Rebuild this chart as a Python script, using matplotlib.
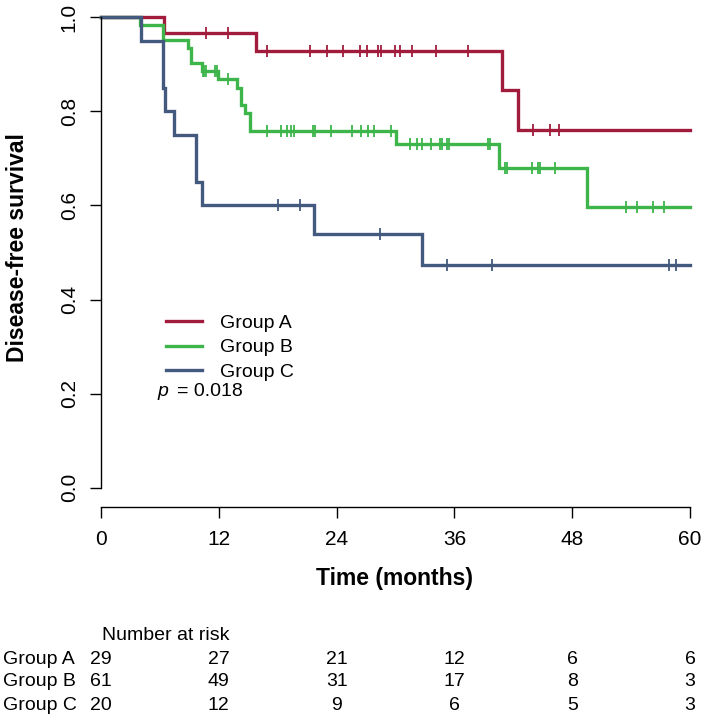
import numpy as np
import matplotlib
matplotlib.use("Agg")
import matplotlib.pyplot as plt
from matplotlib.transforms import blended_transform_factory

plt.rcParams['font.family'] = ['Liberation Sans', 'DejaVu Sans']

# step curves: (time in months, survival after the step)
a_times = [0, 6.4, 15.8, 40.8, 42.5]
a_surv = [1.0, 0.966, 0.929, 0.845, 0.760]
a_cens = [10.7, 12.9, 16.9, 21.3, 23.0, 24.7, 26.4, 27.1, 28.2, 28.5, 29.9,
          30.5, 31.7, 34.1, 37.4, 44.0, 45.7, 46.7]

b_times = [0, 4.0, 6.3, 8.9, 9.2, 10.25, 11.95, 13.9, 14.25, 14.7, 15.2,
           30.1, 40.5, 49.5]
b_surv = [1.0, 0.984, 0.951, 0.934, 0.902, 0.885, 0.868, 0.849, 0.814,
          0.796, 0.759, 0.730, 0.680, 0.596]
b_cens = [10.35, 10.5, 10.7, 11.6, 11.85, 12.9, 16.9, 18.3, 18.9, 19.4, 19.65,
          21.6, 21.8, 23.4, 25.6, 26.5, 27.2, 27.8, 29.5, 31.5, 32.2, 32.7,
          33.6, 34.5, 34.7, 35.2, 35.5, 39.4, 39.6, 41.2, 41.4, 43.9, 44.5,
          44.7, 46.2, 53.5, 54.6, 56.2, 57.4]

c_times = [0, 4.1, 6.3, 6.5, 7.4, 9.7, 10.3, 21.7, 32.7]
c_surv = [1.0, 0.95, 0.85, 0.80, 0.75, 0.65, 0.60, 0.54, 0.4725]
c_cens = [18.0, 20.3, 28.4, 35.2, 39.8, 57.9, 58.6]

groups = ['Group A', 'Group B', 'Group C']
colors = ['#A11B3D', '#3DB54B', '#435A7E']

risk_times = [0, 12, 24, 36, 48, 60]
risk_a = [29, 27, 21, 12, 6, 6]
risk_b = [61, 49, 31, 17, 8, 3]
risk_c = [20, 12, 9, 6, 5, 3]

t_max = 60
p_text = '= 0.018'


def surv_at(times, surv, t):
    i = np.searchsorted(times, t, side='right') - 1
    return np.array(surv)[i]


W, H = 705, 718
fig = plt.figure(figsize=(W / 100, H / 100), dpi=100)
ax = fig.add_axes([101 / W, 1 - 487.7 / H, 589 / W, 470.4 / H])

curves = [(a_times, a_surv, a_cens), (b_times, b_surv, b_cens),
          (c_times, c_surv, c_cens)]
handles = []
for (tt, ss, cc), col, name in zip(curves, colors, groups):
    x = list(tt) + [t_max]
    y = list(ss) + [ss[-1]]
    ln, = ax.step(x, y, where='post', color=col, lw=2.4, clip_on=False,
                  solid_joinstyle='miter', label=name)
    handles.append(ln)
    ax.plot(cc, surv_at(tt, ss, cc), ls='none', marker='|', ms=9, mew=1.3,
            color=col, clip_on=False)

ax.set_xlim(0, t_max)
ax.set_ylim(0, 1)
ax.set_xticks(risk_times)
ax.set_yticks([0, 0.2, 0.4, 0.6, 0.8, 1.0])
ax.set_yticklabels(['0.0', '0.2', '0.4', '0.6', '0.8', '1.0'], rotation=90,
                   va='center')
for s in ['top', 'right']:
    ax.spines[s].set_visible(False)
ax.spines['bottom'].set_position(('outward', 13.7))
ax.spines['bottom'].set_bounds(0, t_max)
ax.spines['left'].set_bounds(0, 1)
for s in ['bottom', 'left']:
    ax.spines[s].set_linewidth(1.0)
ax.tick_params(direction='out', length=8, width=1.0, labelsize=15)
ax.tick_params(axis='x', pad=9)
ax.tick_params(axis='y', pad=8)

fig.text(18 / W, 1 - 248 / H, 'Disease-free survival', rotation=90,
         ha='center', va='center', fontsize=16.5, fontweight='bold')
fig.text(395 / W, 1 - 579 / H, 'Time (months)', ha='center', va='center',
         fontsize=16.5, fontweight='bold')

ax.legend(handles=handles, loc='upper left',
          bbox_to_anchor=(166 / W, 1 - 314.5 / H),
          bbox_transform=fig.transFigure,
          frameon=False, fontsize=14, handlelength=1.85, handletextpad=0.95,
          labelspacing=0.34, borderpad=0, borderaxespad=0)
fig.text(157 / W, 1 - 392 / H, 'p', style='italic', fontsize=14,
         ha='left', va='center')
fig.text(177 / W, 1 - 392 / H, p_text, fontsize=14, ha='left', va='center')

# number at risk table
tr = blended_transform_factory(ax.transData, fig.transFigure)
fig.text(102 / W, 1 - 635 / H, 'Number at risk', fontsize=14,
         ha='left', va='center')
row_y = [659.3, 681.7, 705]
for name, counts, yy in zip(groups, [risk_a, risk_b, risk_c], row_y):
    fig.text(3 / W, 1 - yy / H, name, fontsize=14, ha='left', va='center')
    for t, n in zip(risk_times, counts):
        ax.text(t, 1 - yy / H, str(n), transform=tr, fontsize=14,
                ha='center', va='center')

fig.savefig('out.png', dpi=100)
